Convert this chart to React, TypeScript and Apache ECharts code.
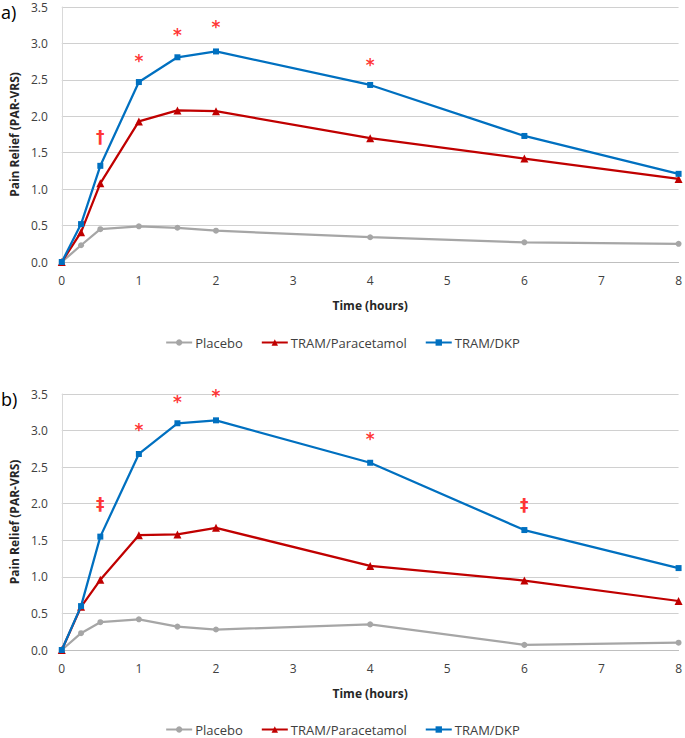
import React, { useEffect, useRef } from "react";
import * as echarts from "echarts";

const times = [0, 0.25, 0.5, 1, 1.5, 2, 4, 6, 8];
const placeboA = [0, 0.23, 0.45, 0.49, 0.47, 0.43, 0.34, 0.27, 0.25];
const paraA = [0, 0.41, 1.08, 1.93, 2.08, 2.07, 1.70, 1.42, 1.14];
const dkpA = [0, 0.52, 1.32, 2.47, 2.81, 2.89, 2.43, 1.73, 1.21];
const placeboB = [0, 0.23, 0.38, 0.42, 0.32, 0.28, 0.35, 0.07, 0.10];
const paraB = [0, 0.59, 0.96, 1.57, 1.58, 1.67, 1.15, 0.95, 0.67];
const dkpB = [0, 0.60, 1.55, 2.68, 3.10, 3.14, 2.56, 1.64, 1.12];
const marksA: [number, number, string][] = [
  [0.5, 1.72, "†"], [1, 2.76, "*"], [1.5, 3.11, "*"], [2, 3.22, "*"], [4, 2.70, "*"],
];
const marksB: [number, number, string][] = [
  [0.5, 2.0, "‡"], [1, 3.01, "*"], [1.5, 3.39, "*"], [2, 3.47, "*"], [4, 2.89, "*"], [6, 1.98, "‡"],
];
const seriesNames = ["Placebo", "TRAM/Paracetamol", "TRAM/DKP"];
const yTicks = { min: 0, max: 3.5, interval: 0.5 };
const xTicks = { min: 0, max: 8, interval: 1 };

const FONT = "'Open Sans', 'Noto Sans', sans-serif";
const colors = ["#A6A6A6", "#C00000", "#0070C0"];
const symbols = ["circle", "triangle", "rect"];
const symSizes = [6, 8, 6];

export default function App() {
  const ref = useRef<HTMLDivElement>(null);
  useEffect(() => {
    if (!ref.current) return;
    const chart = echarts.init(ref.current, undefined, { renderer: "svg" });
    const grids = [
      { left: 61, right: 5, top: 7, height: 255 },
      { left: 61, right: 5, top: 394, height: 256 },
    ];
    const xAxes = [0, 1].map((i) => ({
      type: "value",
      gridIndex: i,
      ...xTicks,
      name: "Time (hours)",
      nameLocation: "middle",
      nameGap: 37,
      nameTextStyle: { fontFamily: FONT, fontSize: 12, fontWeight: "bold", color: "#262626" },
      axisLine: { show: true, lineStyle: { color: "#BFBFBF", width: 1 } },
      axisTick: { show: false },
      splitLine: { show: false },
      axisLabel: { fontFamily: FONT, fontSize: 12, color: "#404040", margin: 12 },
    }));
    const yAxes = [0, 1].map((i) => ({
      type: "value",
      gridIndex: i,
      ...yTicks,
      name: "Pain Relief (PAR-VRS)",
      nameLocation: "middle",
      nameGap: 40,
      nameTextStyle: { fontFamily: FONT, fontSize: 12, fontWeight: "bold", color: "#262626" },
      axisLine: { show: true, lineStyle: { color: "#D9D9D9", width: 1 } },
      axisTick: { show: false },
      splitLine: { show: true, lineStyle: { color: "#D0D0D0", width: 1 } },
      axisLabel: {
        fontFamily: FONT, fontSize: 12, color: "#404040", margin: 14,
        formatter: (v: number) => v.toFixed(1),
      },
    }));
    const dataSets = [
      [placeboA, paraA, dkpA],
      [placeboB, paraB, dkpB],
    ];
    const series: any[] = [];
    dataSets.forEach((set, gi) => {
      set.forEach((vals, si) => {
        series.push({
          type: "line",
          name: seriesNames[si],
          xAxisIndex: gi,
          yAxisIndex: gi,
          data: times.map((t, k) => [t, vals[k]]),
          symbol: symbols[si],
          symbolSize: symSizes[si],
          showAllSymbol: true,
          color: colors[si],
          lineStyle: { color: colors[si], width: 2.25 },
          itemStyle: { color: colors[si] },
          z: 2 + si,
        });
      });
    });
    [marksA, marksB].forEach((marks, gi) => {
      series.push({
        type: "scatter",
        name: "sig" + gi,
        xAxisIndex: gi,
        yAxisIndex: gi,
        symbolSize: 1,
        itemStyle: { color: "rgba(0,0,0,0)" },
        data: marks.map((m) => ({ value: [m[0], m[1]], label: { formatter: m[2] } })),
        label: {
          show: true,
          position: "inside",
          fontFamily: "'DejaVu Sans', sans-serif",
          fontSize: 17,
          fontWeight: "bold",
          color: "#FF0000",
        },
        silent: true,
      });
    });
    const legendCommon = {
      data: seriesNames,
      left: "center",
      itemWidth: 26,
      itemHeight: 8,
      itemGap: 18,
      textStyle: { fontFamily: FONT, fontSize: 13, color: "#404040", padding: [0, 0, 0, -2] },
    };
    chart.setOption({
      animation: false,
      backgroundColor: "#FFFFFF",
      grid: grids,
      xAxis: xAxes,
      yAxis: yAxes,
      legend: [
        { ...legendCommon, top: 331 },
        { ...legendCommon, top: 718 },
      ],
      graphic: [
        { type: "text", left: 1, top: 3, style: { text: "a)", fontFamily: FONT, fontSize: 18, fill: "#000" } },
        { type: "text", left: 1, top: 390, style: { text: "b)", fontFamily: FONT, fontSize: 18, fill: "#000" } },
      ],
      series,
    });
    return () => chart.dispose();
  }, []);
  return (
    <div
      ref={ref}
      style={{ position: "absolute", left: 0, top: 0, width: 685, height: 738, background: "#fff" }}
    />
  );
}
